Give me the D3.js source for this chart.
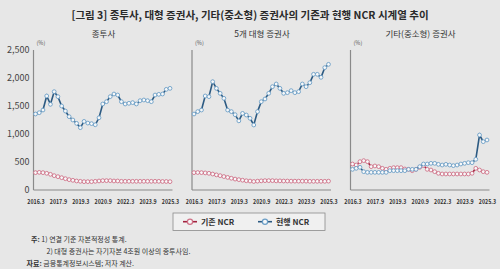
<!DOCTYPE html>
<html><head><meta charset="utf-8">
<script src="https://cdn.jsdelivr.net/npm/d3@7"></script>
<style>
html,body{margin:0;padding:0;background:#e7e7e7;}
svg{display:block;}
text{font-family:"Noto Sans CJK KR","Noto Sans",sans-serif;}
</style></head><body>
<svg id="c" width="500" height="269"></svg>
<script>
const quarters = ["2016.3","2016.6","2016.9","2016.12","2017.3","2017.6","2017.9","2017.12",
"2018.3","2018.6","2018.9","2018.12","2019.3","2019.6","2019.9","2019.12",
"2020.3","2020.6","2020.9","2020.12","2021.3","2021.6","2021.9","2021.12",
"2022.3","2022.6","2022.9","2022.12","2023.3","2023.6","2023.9","2023.12",
"2024.3","2024.6","2024.9","2024.12","2025.3"];
const xTickLabels = ["2016.3","2017.9","2019.3","2020.9","2022.3","2023.9","2025.3"];
const yTicks = [0,500,1000,1500,2000,2500];
const panelTitles = ["종투사","5개 대형 증권사","기타(중소형) 증권사"];
const seriesNames = ["기존 NCR","현행 NCR"];

// 종투사
const p1Old = [310,315,310,298,280,256,238,220,202,185,173,161,155,149,149,149,155,161,167,167,167,161,161,155,155,155,155,155,155,155,155,155,155,155,152,152,149];
const p1New = [1357,1380,1428,1679,1530,1756,1667,1500,1410,1310,1250,1190,1113,1225,1195,1185,1165,1290,1536,1577,1667,1714,1696,1577,1536,1548,1560,1536,1595,1607,1595,1577,1696,1708,1714,1797,1815];
// 5개 대형 증권사
const p2Old = [310,312,310,305,298,285,270,256,240,225,210,195,185,175,165,160,152,158,163,167,167,167,163,163,160,160,158,158,158,158,158,155,155,155,155,155,158];
const p2New = [1357,1400,1428,1679,1667,1934,1815,1726,1637,1428,1400,1345,1235,1368,1339,1280,1161,1400,1577,1625,1726,1845,1893,1815,1726,1738,1774,1738,1756,1893,1845,1916,2066,2066,2012,2185,2244];
// 기타(중소형) 증권사
const p3Old = [464,446,506,524,506,417,429,417,387,369,387,399,399,399,375,369,345,369,405,435,369,357,327,298,286,286,286,286,286,286,286,286,298,387,357,327,315];
const p3New = [369,387,405,327,315,315,315,315,315,315,345,345,345,345,345,369,369,369,417,464,464,476,476,458,446,458,446,435,446,464,476,488,488,548,982,863,893];

const panels = [
  {title: panelTitles[0], old: p1Old, cur: p1New, x0: 33.5, showY: true},
  {title: panelTitles[1], old: p2Old, cur: p2New, x0: 192, showY: false},
  {title: panelTitles[2], old: p3Old, cur: p3New, x0: 350.5, showY: false}
];

const RED_LINE = "#a3233f", RED_PT = "#cf7187";
const BLUE_LINE = "#2c5a82", BLUE_PT = "#6b9ec6";
const PT_FILL = "#f7f8f9";
const AXIS = "#8a8a8a";

const svg = d3.select("#c");
svg.append("rect").attr("width",500).attr("height",269).attr("fill","#e7e7e7");

svg.append("text").attr("x",250).attr("y",19).attr("text-anchor","middle")
  .attr("font-size",10.5).attr("font-weight","bold").attr("fill","#2a2a2a")
  .text("[그림 3] 종투사, 대형 증권사, 기타(중소형) 증권사의 기존과 현행 NCR 시계열 추이");

const yTop = 50, yBot = 190, pw = 139;
const y = d3.scaleLinear().domain([0,2500]).range([yBot,yTop]);

panels.forEach(p => {
  const x = d3.scalePoint().domain(quarters).range([p.x0+2, p.x0+136.5]);
  const g = svg.append("g");
  g.append("text").attr("x", p.x0+70).attr("y",36.5).attr("text-anchor","middle")
    .attr("font-size",8.5).attr("fill","#333").text(p.title);
  g.append("text").attr("x", p.x0+3).attr("y",45).attr("font-size",5.5).attr("fill","#555").text("(%)");
  // axes lines
  g.append("line").attr("x1",p.x0).attr("x2",p.x0).attr("y1",yTop).attr("y2",yBot)
    .attr("stroke",AXIS).attr("stroke-width",1.2);
  g.append("line").attr("x1",p.x0).attr("x2",p.x0+pw).attr("y1",yBot).attr("y2",yBot)
    .attr("stroke",AXIS).attr("stroke-width",1.2);
  // x axis labels
  const xa = g.append("g").attr("transform",`translate(0,${yBot})`)
    .call(d3.axisBottom(x).tickValues(xTickLabels).tickSize(0).tickPadding(9));
  xa.select(".domain").remove();
  xa.selectAll("text").attr("font-size",6.8).attr("font-weight","bold").attr("fill","#333")
    .attr("font-family","'Noto Sans CJK KR','Noto Sans',sans-serif")
    .attr("transform","scale(0.78,1)");
  if (p.showY) {
    const ya = g.append("g").attr("transform",`translate(${p.x0},0)`)
      .call(d3.axisLeft(y).tickValues(yTicks).tickSize(0).tickPadding(4).tickFormat(d3.format(",")));
    ya.select(".domain").remove();
    ya.selectAll("text").attr("font-size",9).attr("fill","#444")
      .attr("font-family","'Noto Sans CJK KR','Noto Sans',sans-serif");
  }
  const line = d3.line().x((d,i)=>x(quarters[i])).y(d=>y(d));
  [[p.old, RED_LINE, RED_PT],[p.cur, BLUE_LINE, BLUE_PT]].forEach(([vals, lc, pc]) => {
    g.append("path").datum(vals).attr("d",line).attr("fill","none")
      .attr("stroke",lc).attr("stroke-width",1.6);
    g.selectAll(null).data(vals).enter().append("circle")
      .attr("cx",(d,i)=>x(quarters[i])).attr("cy",d=>y(d)).attr("r",1.9)
      .attr("fill",PT_FILL).attr("stroke",pc).attr("stroke-width",0.9);
  });
});

// legend
const lg = svg.append("g");
lg.append("rect").attr("x",173).attr("y",213).attr("width",152).attr("height",17.5)
  .attr("fill","#f0f0f0").attr("stroke","#8a8a8a").attr("stroke-width",0.8);
const items = [{name: seriesNames[0], lc: RED_LINE, pc: RED_PT, x: 183},
               {name: seriesNames[1], lc: BLUE_LINE, pc: BLUE_PT, x: 258}];
items.forEach(it => {
  lg.append("line").attr("x1",it.x).attr("x2",it.x+14).attr("y1",221.7).attr("y2",221.7)
    .attr("stroke",it.lc).attr("stroke-width",1.6);
  lg.append("circle").attr("cx",it.x+7).attr("cy",221.7).attr("r",2.6)
    .attr("fill",PT_FILL).attr("stroke",it.pc).attr("stroke-width",1.2);
  lg.append("text").attr("x",it.x+18).attr("y",224.7).attr("font-size",8)
    .attr("font-weight","bold").attr("fill","#333").text(it.name);
});

// notes
const notes = svg.append("g").attr("font-size",7).attr("fill","#333");
const n1 = notes.append("text").attr("x",31).attr("y",241.5);
n1.append("tspan").attr("font-weight","bold").text("주: ");
n1.append("tspan").text("1) 연결 기준 자본적정성 통계.");
notes.append("text").attr("x",46.5).attr("y",254).text("2) 대형 증권사는 자기자본 4조원 이상의 종투사임.");
const n3 = notes.append("text").attr("x",26.5).attr("y",265.5);
n3.append("tspan").attr("font-weight","bold").text("자료: ");
n3.append("tspan").text("금융통계정보시스템; 저자 계산.");
</script>
</body></html>
